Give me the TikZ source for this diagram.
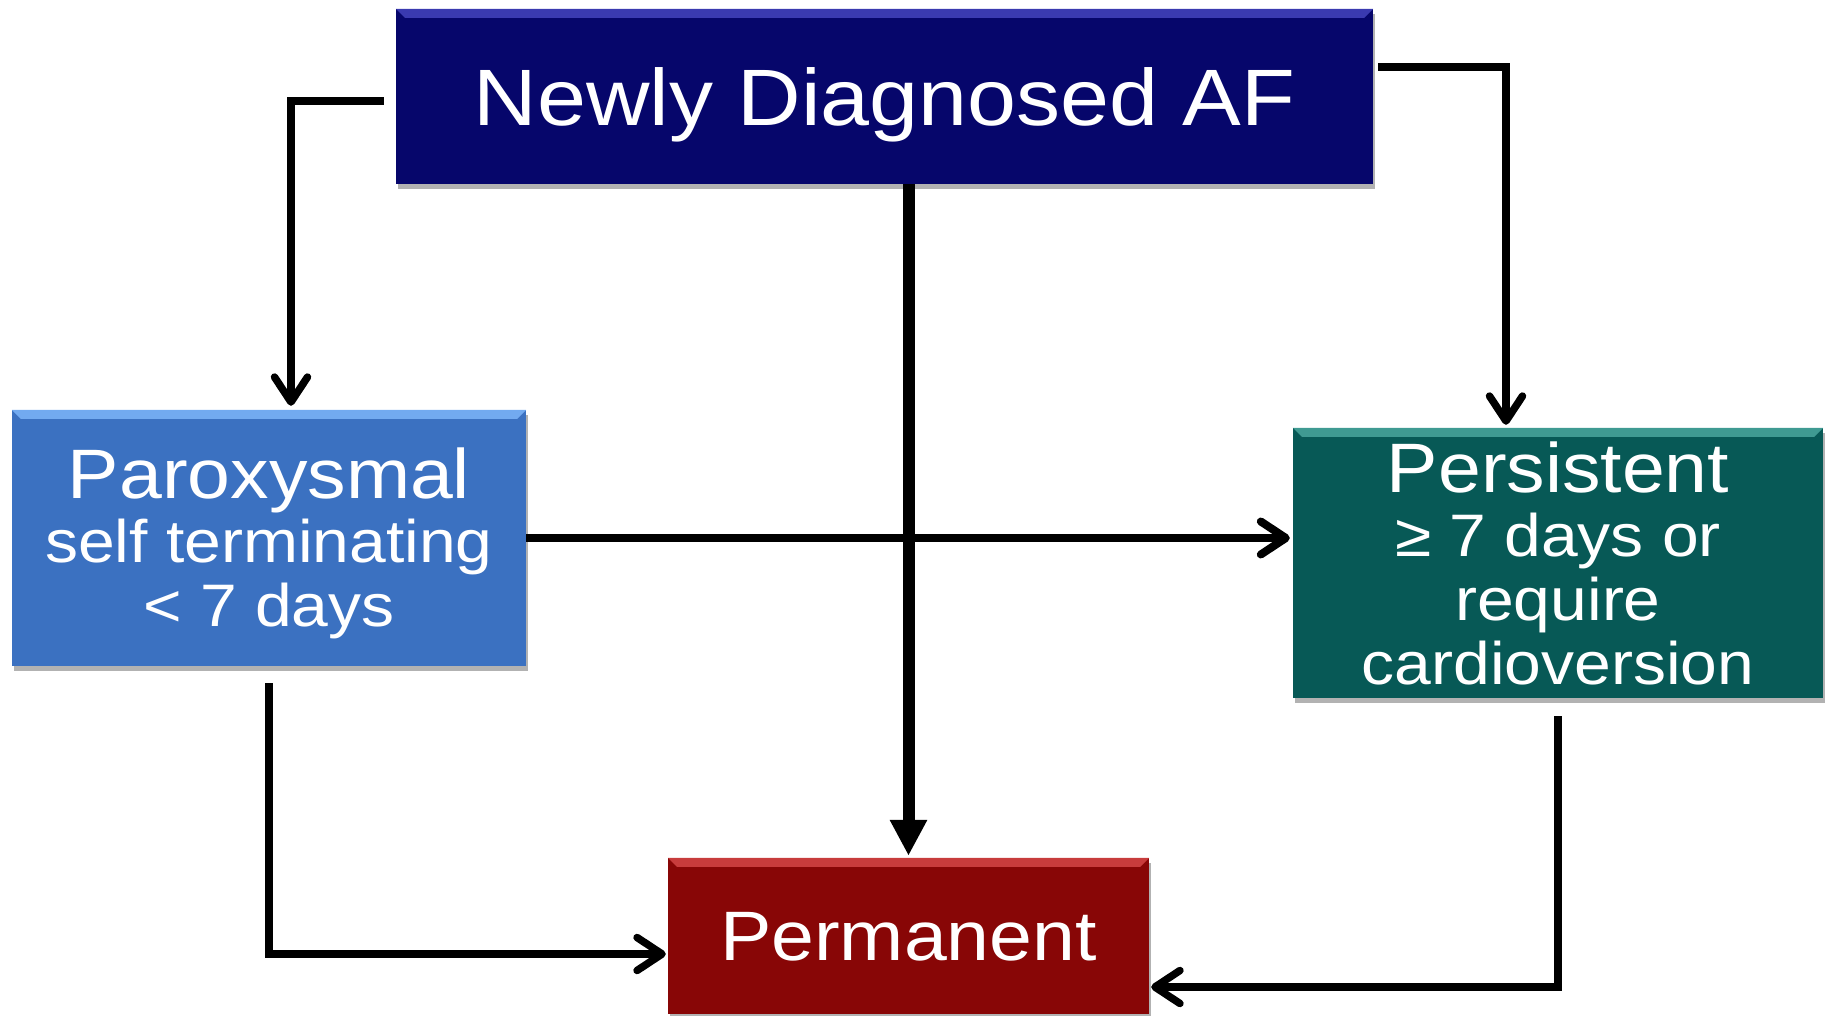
\documentclass[tikz,border=0pt]{standalone}
\usepackage{fontspec}
\setmainfont{Liberation Sans}[FakeStretch=1.1]
\usetikzlibrary{arrows.meta,shadows,calc}
\definecolor{navyfill}{HTML}{06066B}
\definecolor{navyhi}{HTML}{3A3AB0}
\definecolor{bluefill}{HTML}{3B71C1}
\definecolor{bluehi}{HTML}{72AAF0}
\definecolor{tealfill}{HTML}{075956}
\definecolor{tealhi}{HTML}{3F9A92}
\definecolor{redfill}{HTML}{880606}
\definecolor{redhi}{HTML}{C83C3C}
\tikzset{
  box/.style={rectangle, inner sep=0pt, text=white, align=center,
    drop shadow={shadow xshift=2pt, shadow yshift=-5pt, opacity=0.3, fill=black}},
  conn/.style={draw=black, line width=7.5pt, line join=miter,
    -{Straight Barb[length=25pt,width=33pt,round]}},
  mainconn/.style={draw=black, line width=12pt, -{Triangle[length=36pt,width=35pt]}},
  crossconn/.style={draw=black, line width=8pt, -{Straight Barb[length=25pt,width=33pt,round]}},
}
\newcommand{\bevel}[2]{%
  \fill[#2] (#1.north west) -- (#1.north east) -- ([shift={(-9,9)}]#1.north east)
    -- ([shift={(9,9)}]#1.north west) -- cycle;}
\begin{document}
\begin{tikzpicture}[x=1pt,y=-1pt]
\useasboundingbox (0,0) rectangle (1825,1016);
% boxes
\node[box, fill=navyfill, minimum width=977pt, minimum height=175pt, text depth=0pt,
  font=\fontsize{80}{80}\selectfont] (newly) at (884.5,96.5) {Newly Diagnosed AF};
\node[box, fill=bluefill, minimum width=514pt, minimum height=256pt,
  text height=189pt, text depth=13pt, font=\fontsize{60}{64}\selectfont] (parox) at (269,538)
  {{\fontsize{70}{64}\selectfont Paroxysmal}\\
   self terminating\\
   < 7 days};
\node[box, fill=tealfill, minimum width=530pt, minimum height=270pt,
  text height=244pt, text depth=2pt, font=\fontsize{60}{64}\selectfont] (pers) at (1558,563)
  {{\fontsize{70}{64}\selectfont Persistent}\\
   ≥ 7 days or\\
   require\\
   cardioversion};
\node[box, fill=redfill, minimum width=481pt, minimum height=156pt, text depth=0pt,
  font=\fontsize{70}{70}\selectfont] (perm) at (908.5,936) {Permanent};
\bevel{newly}{navyhi}
\bevel{parox}{bluehi}
\bevel{pers}{tealhi}
\bevel{perm}{redhi}
% connectors
\draw[conn, shorten >=4pt] ([shift={(-12,4.5)}]newly.west) -| ([xshift=22]parox.north);
\draw[conn, shorten >=3pt] ([shift={(5,-29.5)}]newly.east) -| ([xshift=-52]pers.north);
\draw[crossconn, shorten >=3pt] (parox.east) -- (parox.east -| pers.west);
\draw[mainconn, shorten >=2pt] (perm.north |- newly.south) -- (perm.north);
\draw[conn, shorten >=2pt] ([shift={(0,17)}]parox.south) |- ([shift={(0,18)}]perm.west);
\draw[conn, shorten >=2pt] ([shift={(0,18)}]pers.south) |- ([shift={(0,51)}]perm.east);
\end{tikzpicture}
\end{document}
